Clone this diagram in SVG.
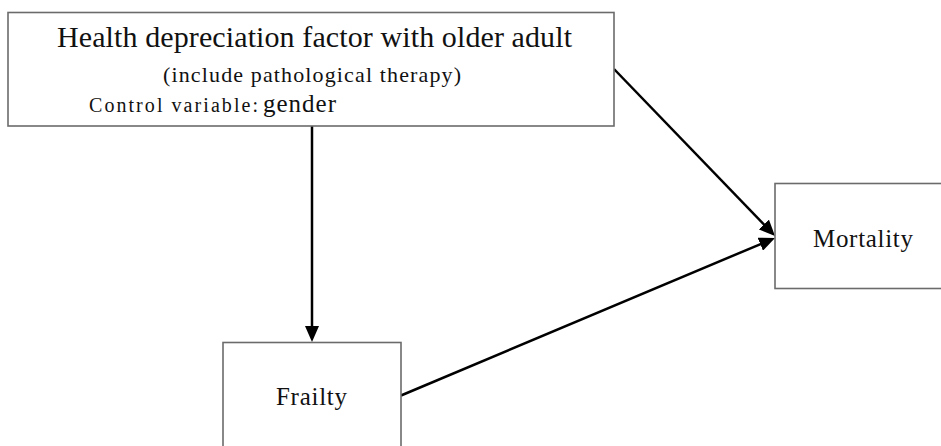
<svg xmlns="http://www.w3.org/2000/svg" width="941" height="446" viewBox="0 0 941 446">
<style>
.box{fill:#fff;stroke:#6b6b6b;stroke-width:1.6}
.t{font-family:"Liberation Serif","Times New Roman",serif;fill:#111}
.con{stroke:#000;stroke-width:2.5;fill:none}
</style>
<defs>
<marker id="ah" markerUnits="userSpaceOnUse" markerWidth="16" markerHeight="14" refX="1" refY="7" orient="auto">
<path d="M0,0 L16,7 L0,14 z" fill="#000"/>
</marker>
</defs>
<rect width="941" height="446" fill="#fff"/>
<g id="connectors">
<line class="con" x1="312" y1="126" x2="312" y2="327" marker-end="url(#ah)"/>
<line class="con" x1="614" y1="69" x2="764.6" y2="225.2" marker-end="url(#ah)"/>
<line class="con" x1="401" y1="395.5" x2="761.2" y2="243.8" marker-end="url(#ah)"/>
</g>
<g id="node-health">
<rect class="box" x="8" y="12.5" width="606" height="113.5"/>
<text class="t" x="57" y="47" font-size="30" textLength="515" lengthAdjust="spacing">Health depreciation factor with older adult</text>
<text class="t" x="163" y="82" font-size="22" textLength="298" lengthAdjust="spacing">(include pathological therapy)</text>
<text class="t" x="89" y="112" font-size="20" textLength="169" lengthAdjust="spacing">Control variable:</text>
<text class="t" x="263" y="112" font-size="25" textLength="73" lengthAdjust="spacing">gender</text>
</g>
<g id="node-frailty">
<rect class="box" x="223" y="342.5" width="178" height="110"/>
<text class="t" x="276" y="405" font-size="25" textLength="71" lengthAdjust="spacing">Frailty</text>
</g>
<g id="node-mortality">
<rect class="box" x="775" y="183.5" width="180" height="105"/>
<text class="t" x="813" y="247" font-size="25" textLength="100" lengthAdjust="spacing">Mortality</text>
</g>
</svg>
